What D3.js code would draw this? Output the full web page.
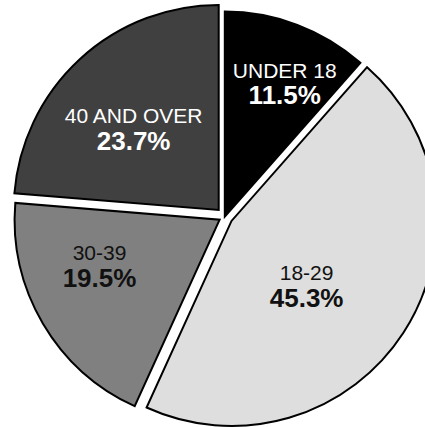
<!DOCTYPE html>
<html><head><meta charset="utf-8">
<script src="https://cdn.jsdelivr.net/npm/d3@7"></script>
<style>html,body{margin:0;padding:0;background:#fff;overflow:hidden}</style>
</head><body>
<script>
// ---- data ----
const categories = ["UNDER 18", "18-29", "30-39", "40 AND OVER"];
const values = [11.5, 45.3, 19.5, 23.7];
const valueLabels = ["11.5%", "45.3%", "19.5%", "23.7%"];

// ---- style / layout config ----
const fills = ["#000000", "#dedede", "#808080", "#404040"];
const textColors = ["#ffffff", "#111111", "#111111", "#ffffff"];
const explode = [0, 8, 6, 9];                 // outward shift of each slice (px)
const labelNudge = [[14, -4], [-34, 2], [-8, -12], [3, 22]];

const W = 425, H = 427;
const cx = 224.8, cy = 216.6, R = 205, labelR = 130;

const svg = d3.select("body").append("svg")
  .attr("width", W).attr("height", H)
  .style("display", "block");

const pie = d3.pie().sort(null).startAngle(0).endAngle(2 * Math.PI)(values);
const arc = d3.arc().innerRadius(0).outerRadius(R);
const labelArc = d3.arc().innerRadius(labelR).outerRadius(labelR);

const g = svg.append("g").attr("transform", `translate(${cx},${cy})`);

const slices = g.selectAll("g.slice").data(pie).enter().append("g")
  .attr("class", "slice")
  .attr("transform", (d, i) => {
    const mid = (d.startAngle + d.endAngle) / 2;
    return `translate(${explode[i] * Math.sin(mid)},${-explode[i] * Math.cos(mid)})`;
  });

slices.append("path")
  .attr("d", arc)
  .attr("fill", (d, i) => fills[i])
  .attr("stroke", "#000")
  .attr("stroke-width", 2)
  .attr("stroke-linejoin", "miter");

const labels = slices.append("text")
  .attr("text-anchor", "middle")
  .attr("font-family", "'Liberation Sans', Arial, Helvetica, sans-serif")
  .attr("fill", (d, i) => textColors[i])
  .attr("transform", (d, i) => {
    const c = labelArc.centroid(d);
    return `translate(${c[0] + labelNudge[i][0]},${c[1] + labelNudge[i][1]})`;
  });

labels.append("tspan")
  .attr("x", 0).attr("y", -13.3)
  .attr("font-size", 21)
  .text((d, i) => categories[i]);

labels.append("tspan")
  .attr("x", 0).attr("y", 13.3)
  .attr("font-size", 26)
  .attr("font-weight", "bold")
  .text((d, i) => valueLabels[i]);
</script>
</body></html>
